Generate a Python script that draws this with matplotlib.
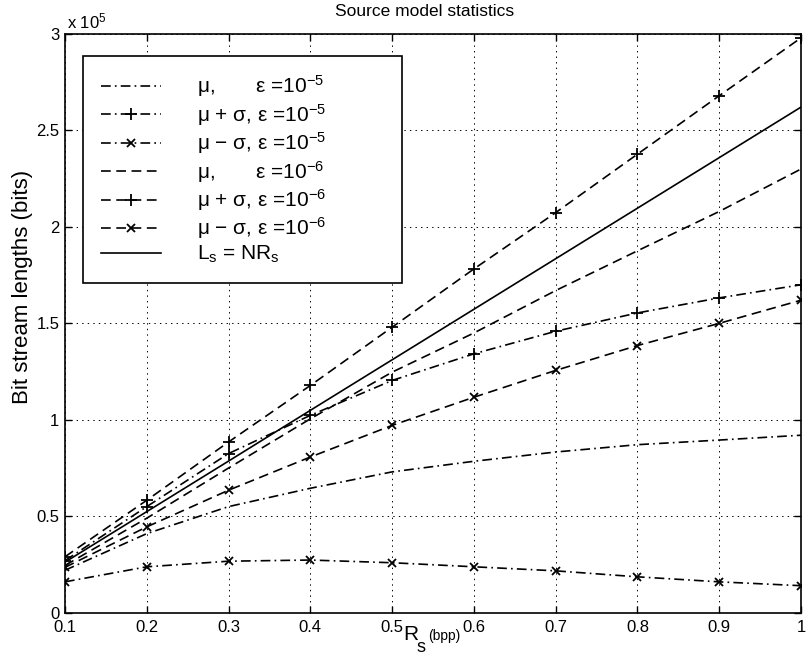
import matplotlib
matplotlib.use("Agg")
import matplotlib.pyplot as plt

plt.rcParams['font.family'] = ['Liberation Sans', 'DejaVu Sans']
plt.rcParams['mathtext.fontset'] = 'custom'
plt.rcParams['mathtext.rm'] = 'Liberation Sans'
plt.rcParams['mathtext.it'] = 'Liberation Sans:italic'
plt.rcParams['mathtext.bf'] = 'Liberation Sans:bold'
plt.rcParams['lines.scale_dashes'] = False

# ---- data (bit stream lengths in units of 1e5 bits) ----
rate = [0.1, 0.2, 0.3, 0.4, 0.5, 0.6, 0.7, 0.8, 0.9, 1.0]
mu_e5 = [0.22, 0.41, 0.55, 0.645, 0.73, 0.785, 0.833, 0.871, 0.895, 0.92]
mu_plus_e5 = [0.27, 0.55, 0.825, 1.023, 1.204, 1.342, 1.459, 1.554, 1.632, 1.70]
mu_minus_e5 = [0.16, 0.238, 0.267, 0.273, 0.259, 0.238, 0.217, 0.186, 0.16, 0.14]
mu_e6 = [0.245, 0.49, 0.75, 1.005, 1.247, 1.45, 1.67, 1.876, 2.08, 2.30]
mu_plus_e6 = [0.29, 0.583, 0.885, 1.178, 1.48, 1.782, 2.074, 2.377, 2.68, 2.98]
mu_minus_e6 = [0.235, 0.445, 0.635, 0.807, 0.971, 1.117, 1.256, 1.385, 1.50, 1.62]
ls_nrs = [0.262, 0.524, 0.786, 1.049, 1.311, 1.573, 1.835, 2.097, 2.359, 2.621]

labels = [
    'μ,       ε =$10^{-5}$',
    'μ + σ, ε =$10^{-5}$',
    'μ − σ, ε =$10^{-5}$',
    'μ,       ε =$10^{-6}$',
    'μ + σ, ε =$10^{-6}$',
    'μ − σ, ε =$10^{-6}$',
    'L$_\\mathrm{s}$ = NR$_\\mathrm{s}$',
]
x_ticks = [0.1, 0.2, 0.3, 0.4, 0.5, 0.6, 0.7, 0.8, 0.9, 1.0]
x_ticklabels = ['0.1', '0.2', '0.3', '0.4', '0.5', '0.6', '0.7', '0.8', '0.9', '1']
y_ticks = [0, 0.5, 1, 1.5, 2, 2.5, 3]
y_ticklabels = ['0', '0.5', '1', '1.5', '2', '2.5', '3']

W, H = 806, 659
fig = plt.figure(figsize=(W / 100, H / 100), dpi=100)
L, R, T, B = 65, 801, 34, 612.7
ax = fig.add_axes([L / W, 1 - B / H, (R - L) / W, (B - T) / H])

dash = (0, (7.0, 4.0))
dashdot = (0, (7.0, 3.0, 1.2, 3.0))
lw = 1.2
ax.plot(rate, mu_e5, color='k', lw=lw, linestyle=dashdot, label=labels[0])
ax.plot(rate, mu_plus_e5, color='k', lw=lw, linestyle=dashdot, marker='+', ms=8, mew=1.3, label=labels[1])
ax.plot(rate, mu_minus_e5, color='k', lw=lw, linestyle=dashdot, marker='x', ms=6, mew=1.3, label=labels[2])
ax.plot(rate, mu_e6, color='k', lw=lw, linestyle=dash, label=labels[3])
ax.plot(rate, mu_plus_e6, color='k', lw=lw, linestyle=dash, marker='+', ms=8, mew=1.3, label=labels[4])
ax.plot(rate, mu_minus_e6, color='k', lw=lw, linestyle=dash, marker='x', ms=6, mew=1.3, label=labels[5])
ax.plot(rate, ls_nrs, color='k', lw=lw, linestyle='-', label=labels[6])

ax.set_xlim(0.1, 1.0)
ax.set_ylim(0, 3)
ax.set_xticks(x_ticks)
ax.set_xticklabels(x_ticklabels)
ax.set_yticks(y_ticks)
ax.set_yticklabels(y_ticklabels)
ax.tick_params(direction='in', length=5, width=1, top=True, right=True,
               labelsize=12, pad=4)
ax.tick_params(axis='x', pad=5)
ax.grid(True, color='k', linestyle=(0, (1, 3)), linewidth=0.7)
for s in ax.spines.values():
    s.set_linewidth(1.2)

leg = ax.legend(loc='upper left', bbox_to_anchor=((83 - L) / (R - L), 0, (402 - 83) / (R - L), (B - 56) / (B - T)),
                mode='expand', borderaxespad=0, fontsize=15, handlelength=2.9, handletextpad=1.75,
                labelspacing=0.12, borderpad=0.84, fancybox=False, framealpha=1, edgecolor='k')
leg.get_frame().set_linewidth(1.2)

fig.text(425 / W, 1 - 12 / H, 'Source model statistics', ha='center', va='center', fontsize=12.5)
fig.text(67 / W, 1 - 21 / H, 'x $10^{5}$', ha='left', va='center', fontsize=12)
fig.text(23 / W, 1 - 287 / H, 'Bit stream lengths (bits)', rotation=90, ha='center', va='center', fontsize=16)
fig.text(411 / W, 1 - 634 / H, 'R', ha='center', va='center', fontsize=15)
fig.text(421 / W, 1 - 647 / H, 's', ha='center', va='center', fontsize=13)
fig.text(444 / W, 1 - 636 / H, '(bpp)', ha='center', va='center', fontsize=10)

fig.savefig('out.png', dpi=100)
